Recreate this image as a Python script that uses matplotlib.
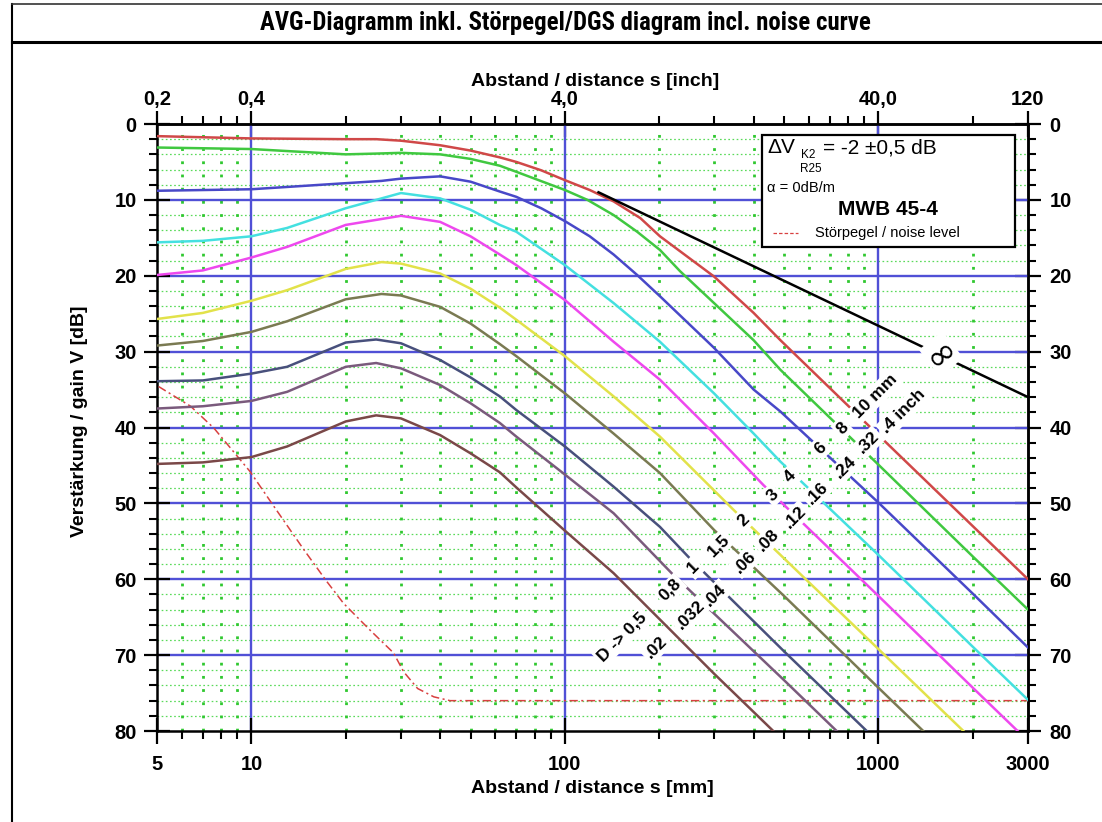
import numpy as np
import matplotlib
matplotlib.use('Agg')
import matplotlib.pyplot as plt
from matplotlib.lines import Line2D
from matplotlib.patches import Rectangle
from matplotlib.ticker import NullFormatter

plt.rcParams['font.family'] = ['Liberation Sans', 'DejaVu Sans']
plt.rcParams['font.weight'] = 'bold'
plt.rcParams['lines.scale_dashes'] = False

# ── data (distance s in mm, gain V in dB) ─────────────────────────────────────
s_10 = [5, 10, 20, 25, 30, 40, 50, 62, 70, 84, 100, 120, 143, 174, 201, 299, 400, 487, 1000, 2000, 3000]
v_10 = [1.6, 1.9, 2.0, 2.0, 2.2, 2.8, 3.5, 4.4, 5.0, 6.1, 7.4, 8.7, 10.2, 12.4, 14.8, 20.1, 24.9, 28.5, 41.0, 53.0, 60.0]
s_8 = [5, 10, 20, 25, 30, 40, 50, 62, 70, 100, 118, 143, 170, 201, 233, 299, 400, 487, 1000, 2000, 3000]
v_8 = [3.1, 3.3, 4.0, 3.9, 3.8, 4.0, 4.6, 5.5, 6.3, 8.7, 10.0, 12.0, 14.2, 16.6, 19.4, 23.6, 28.5, 32.4, 44.9, 57.0, 64.0]
s_6 = [5, 10, 20, 26, 30, 40, 50, 62, 70, 84, 100, 120, 143, 170, 201, 299, 400, 487, 1000, 2000, 3000]
v_6 = [8.8, 8.6, 7.8, 7.5, 7.2, 6.9, 7.6, 8.9, 9.6, 11.1, 12.8, 14.8, 17.2, 19.9, 22.7, 29.5, 35.0, 37.9, 49.9, 61.9, 69.0]
s_4 = [5, 7, 10, 13, 20, 30, 40, 50, 62, 70, 100, 143, 201, 299, 400, 487, 1000, 2000, 3000]
v_4 = [15.6, 15.4, 14.8, 13.7, 11.1, 9.1, 9.8, 11.3, 13.3, 14.2, 18.6, 23.6, 28.7, 35.5, 40.8, 44.5, 56.8, 68.9, 75.9]
s_3 = [5, 7, 10, 13, 20, 30, 40, 50, 62, 70, 100, 143, 201, 299, 430, 1000, 2000, 2780]
v_3 = [19.9, 19.3, 17.6, 16.2, 13.3, 12.1, 12.9, 14.8, 17.2, 18.6, 23.2, 28.7, 33.7, 40.8, 47.6, 62.2, 74.3, 80.0]
s_2 = [5, 7, 10, 13, 20, 26, 30, 40, 50, 62, 70, 100, 143, 201, 346, 1000, 1867]
v_2 = [25.7, 24.9, 23.3, 21.9, 19.1, 18.2, 18.4, 19.7, 21.7, 24.2, 25.8, 30.6, 35.9, 41.2, 50.9, 69.2, 80.0]
s_15 = [5, 7, 10, 13, 20, 26, 30, 40, 50, 62, 70, 100, 143, 201, 299, 500, 1000, 1390]
v_15 = [29.2, 28.6, 27.4, 26.0, 23.1, 22.4, 22.6, 24.1, 26.3, 29.0, 30.6, 35.5, 40.8, 46.0, 53.5, 62.2, 74.3, 80.0]
s_1 = [5, 7, 10, 13, 20, 25, 30, 40, 50, 62, 70, 100, 143, 201, 247, 500, 918]
v_1 = [33.9, 33.8, 32.9, 32.0, 28.8, 28.4, 28.9, 31.1, 33.4, 35.9, 37.7, 42.5, 47.8, 53.1, 57.0, 69.5, 80.0]
s_08 = [5, 7, 10, 13, 20, 25, 30, 40, 50, 62, 70, 100, 143, 219, 500, 736]
v_08 = [37.5, 37.2, 36.5, 35.3, 32.0, 31.5, 32.2, 34.4, 36.8, 39.4, 41.2, 46.2, 51.3, 59.2, 73.3, 80.0]
s_05 = [5, 7, 10, 13, 20, 25, 30, 40, 50, 62, 70, 100, 143, 300, 462]
v_05 = [44.8, 44.6, 43.9, 42.5, 39.2, 38.4, 38.8, 41.0, 43.4, 45.9, 47.9, 53.6, 59.2, 72.5, 80.0]

# back wall echo (infinite reflector)
s_bw = [128, 3000]
v_bw = [9.0, 36.0]

# noise level
s_noise = [5.06, 6.4, 7.6, 9.9, 11.8, 14.7, 17.4, 19.7, 23.9, 28.4, 30.6, 33.9, 38.2, 43.0, 3000]
v_noise = [34.6, 37.2, 40.1, 45.8, 50.4, 56.1, 60.3, 63.2, 66.7, 69.7, 72.2, 74.4, 75.5, 76.0, 76.0]

mm_labels = ['D -> 0,5', '0,8', '1', '1,5', '2', '3', '4', '6', '8', '10 mm']
inch_labels = ['.02', '.032', '.04', '.06', '.08', '.12', '.16', '.24', '.32', '.4 inch']

x_major = [5, 10, 100, 1000, 3000]
x_major_labels = ['5', '10', '100', '1000', '3000']
x_inch_labels = ['0,2', '0,4', '4,0', '40,0', '120']
x_minor = [6, 7, 8, 9, 20, 30, 40, 50, 60, 70, 80, 90,
           200, 300, 400, 500, 600, 700, 800, 900, 2000]
y_major = [0, 10, 20, 30, 40, 50, 60, 70, 80]

curves = [(s_10, v_10), (s_8, v_8), (s_6, v_6), (s_4, v_4), (s_3, v_3),
          (s_2, v_2), (s_15, v_15), (s_1, v_1), (s_08, v_08), (s_05, v_05)]
colors = ['#d04848', '#40c840', '#4848c8', '#44e0e0', '#ee48ee',
          '#e2e24a', '#7a7a52', '#48507c', '#7a5a7c', '#7a4848']

# label placement along the diagonal (mm, dB)
mm_pos = [(152, 67.6), (217, 61.4), (257, 58.5), (309, 55.5), (371, 52.2),
          (459, 48.9), (524, 46.5), (653, 42.7), (767, 40.1), (977, 35.9)]
inch_pos = [(195, 69.0), (252, 64.7), (302, 62.1), (376, 57.7), (446, 54.8),
            (543, 51.8), (638, 48.6), (784, 45.3), (929, 42.0), (1201, 37.9)]

# ── figure ────────────────────────────────────────────────────────────────────
W, H = 1102, 822
fig = plt.figure(figsize=(W / 100, H / 100), dpi=100)
fig.patch.set_facecolor('white')
ax = fig.add_axes([157 / W, 1 - 731 / H, (1028 - 157) / W, (731 - 124) / H])
ax.set_xscale('log')
ax.set_xlim(5, 3000)
ax.set_ylim(80, 0)

def ftxt(px, py, s, **kw):
    fig.text(px / W, 1 - py / H, s, **kw)

# ── grid ──────────────────────────────────────────────────────────────────────
blue = '#5050d6'
for v in range(2, 80, 2):
    if v % 10:
        ax.axhline(v, color='#5ada5a', lw=0.9, ls=(0, (1.2, 1.8)), zorder=1)
for s in x_minor:
    ax.axvline(s, color='#30c830', lw=2.0, ls=(0, (2, 7.5)), zorder=1)
for v in range(10, 80, 10):
    ax.axhline(v, color=blue, lw=1.7, zorder=1.5)
for s in (10, 100, 1000):
    ax.axvline(s, color=blue, lw=1.7, zorder=1.5)

# ── curves ────────────────────────────────────────────────────────────────────
for (s, v), c in zip(curves, colors):
    ax.plot(s, v, color=c, lw=1.8, zorder=3, solid_joinstyle='round')
ax.plot(s_bw, v_bw, color='black', lw=1.8, zorder=3)
ax.plot(s_noise, v_noise, color='#d84040', lw=1.1, ls=(0, (6, 2.5, 1.5, 2.5)), zorder=2.8)

ax.text(1585, 30.3, '\u221e', fontsize=26, fontweight='normal', rotation=38,
        family='DejaVu Sans', ha='center', va='center', zorder=6,
        bbox=dict(fc='white', ec='none', pad=0.0))

for lab, (s, v) in zip(mm_labels, mm_pos):
    ax.text(s, v, lab, fontsize=12.5, rotation=45, ha='center', va='center',
            rotation_mode='anchor', zorder=6, bbox=dict(fc='white', ec='none', pad=1.8))
for lab, (s, v) in zip(inch_labels, inch_pos):
    ax.text(s, v, lab, fontsize=12.5, rotation=45, ha='center', va='center',
            rotation_mode='anchor', zorder=6, bbox=dict(fc='white', ec='none', pad=1.8))

# ── axes / ticks ──────────────────────────────────────────────────────────────
for sp in ax.spines.values():
    sp.set_linewidth(1.8)
ax.set_xticks(x_major, labels=x_major_labels)
ax.set_xticks(x_minor, minor=True)
ax.xaxis.set_minor_formatter(NullFormatter())
ax.set_yticks(y_major)
ax.set_yticks(range(2, 80, 2), minor=True)
ax.tick_params(which='major', direction='inout', length=19, width=1.6, labelsize=14.5)
ax.tick_params(which='minor', direction='out', length=6, width=1.5)
ax.tick_params(axis='x', which='major', pad=8)
ax.tick_params(axis='y', which='major', pad=5)

top = ax.secondary_xaxis('top')
top.set_xticks(x_major, labels=x_inch_labels)
top.set_xticks(x_minor, minor=True)
top.xaxis.set_minor_formatter(NullFormatter())
top.tick_params(which='major', direction='inout', length=19, width=1.6, labelsize=14.5, pad=1)
top.tick_params(which='minor', direction='out', length=6, width=1.5)
top.spines['top'].set_linewidth(1.8)

right = ax.secondary_yaxis('right')
right.set_yticks(y_major)
right.set_yticks(range(2, 80, 2), minor=True)
right.tick_params(which='major', direction='inout', length=19, width=1.6, labelsize=14.5, pad=6)
right.tick_params(which='minor', direction='out', length=6, width=1.5)
right.spines['right'].set_linewidth(1.8)

ftxt(595, 81, 'Abstand / distance s [inch]', fontsize=14, ha='center', va='center')
ftxt(592, 788, 'Abstand / distance s [mm]', fontsize=14, ha='center', va='center')
ftxt(80, 421, 'Verstärkung / gain V [dB]', fontsize=14, ha='center', va='center', rotation=90)

# ── legend box ────────────────────────────────────────────────────────────────
x0, x1 = (762 - 157) / 871, (1015 - 157) / 871
y1, y0 = 1 - (135 - 124) / 607, 1 - (247 - 124) / 607
ax.add_patch(Rectangle((x0, y0), x1 - x0, y1 - y0, transform=ax.transAxes,
                       fc='white', ec='black', lw=1.6, zorder=8))
ftxt(767, 153, '\u0394V', fontsize=15, fontweight='normal', va='baseline')
ftxt(801, 158, 'K2', fontsize=8.5, fontweight='normal', va='baseline')
ftxt(800, 172, 'R25', fontsize=8.5, fontweight='normal', va='baseline')
ftxt(823, 153, '= -2 \u00b10,5 dB', fontsize=15, fontweight='normal', va='baseline')
ftxt(767, 192, '\u03b1 = 0dB/m', fontsize=10.5, fontweight='normal', va='baseline')
ftxt(888, 215, 'MWB 45-4', fontsize=15, ha='center', va='baseline')
fig.add_artist(Line2D([773 / W, 798 / W], [1 - 233 / H, 1 - 233 / H],
                      color='#d84040', lw=0.9, ls=(0, (2.5, 1.5))))
ftxt(815, 237, 'Störpegel / noise level', fontsize=10.5, fontweight='normal', va='baseline')

# ── outer frame and title ─────────────────────────────────────────────────────
fig.add_artist(Line2D([12 / W, 12 / W], [0, 1 - 4 / H], color='black', lw=1.5))
fig.add_artist(Line2D([12 / W, 1], [1 - 4 / H, 1 - 4 / H], color='#333333', lw=1.2))
fig.add_artist(Line2D([12 / W, 1], [1 - 42 / H, 1 - 42 / H], color='black', lw=2.2))
ftxt(565, 23, 'AVG-Diagramm inkl. Störpegel/DGS diagram incl. noise curve',
     fontsize=17.8, fontweight='bold', fontstretch='condensed', ha='center', va='center',
     family=['Roboto Condensed', 'Liberation Sans Narrow', 'DejaVu Sans'])

fig.savefig('out.png', dpi=100, facecolor='white')
